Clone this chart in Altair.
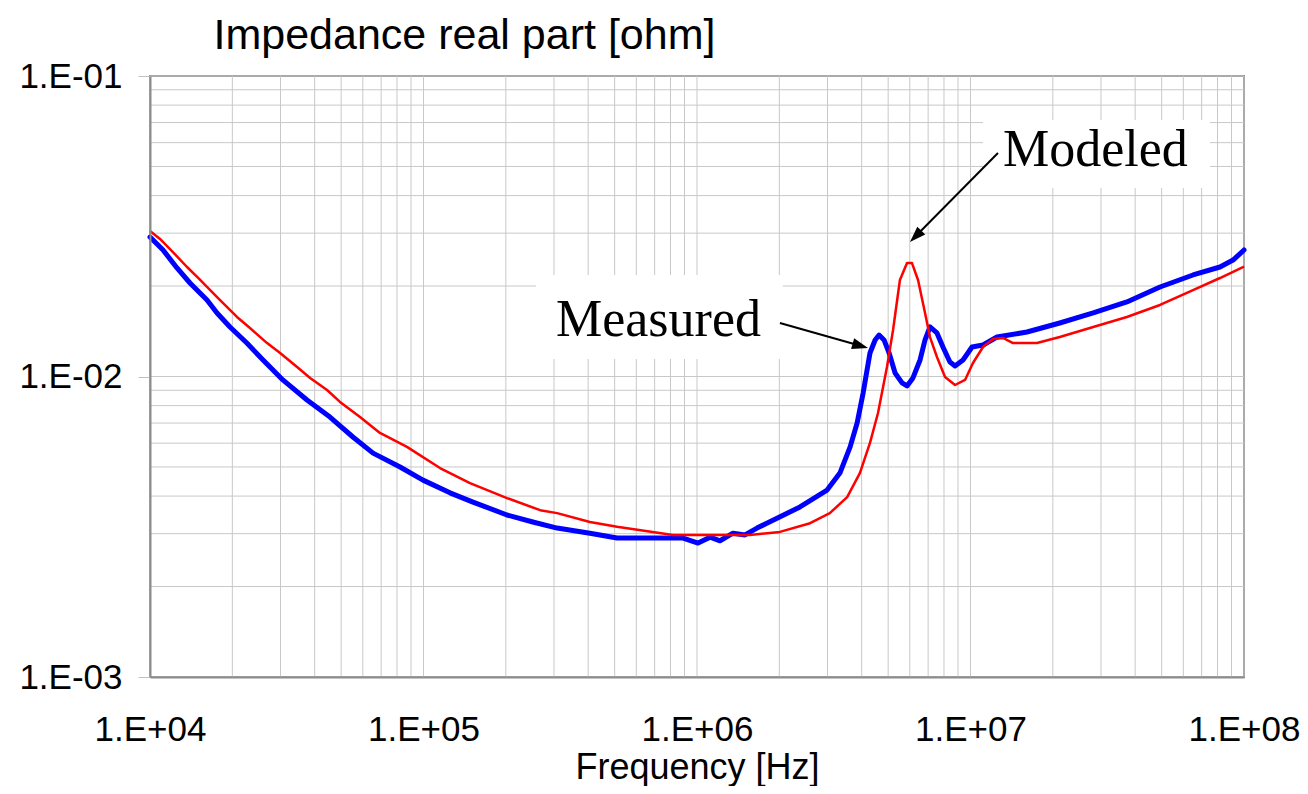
import altair as alt
import pandas as pd

# ---- data ----
meas_freq = [1.0e4, 1.116e4, 1.255e4, 1.40e4, 1.616e4, 1.758e4, 1.961e4, 2.26e4, 2.59e4, 3.06e4,
             3.75e4, 4.55e4, 5.52e4, 6.54e4, 8.21e4, 9.96e4, 1.25e5, 1.517e5, 2.02e5, 2.51e5,
             3.08e5, 4.06e5, 5.10e5, 8.89e5, 1.009e6, 1.116e6, 1.214e6, 1.354e6, 1.498e6, 1.657e6,
             1.80e6, 2.38e6, 2.99e6, 3.33e6, 3.63e6, 3.85e6, 4.05e6, 4.29e6, 4.48e6, 4.63e6,
             4.83e6, 5.04e6, 5.30e6, 5.62e6, 5.86e6, 6.16e6, 6.54e6, 6.82e6, 7.11e6, 7.54e6,
             7.93e6, 8.41e6, 8.78e6, 9.39e6, 1.013e7, 1.111e7, 1.25e7, 1.609e7, 2.12e7, 2.81e7,
             3.73e7, 4.93e7, 6.51e7, 8.17e7, 9.12e7, 1.0e8]
meas_val = [0.02911, 0.02636, 0.02297, 0.02047, 0.01797, 0.01627, 0.01462, 0.01292, 0.01135, 0.00974,
            0.00835, 0.00733, 0.00629, 0.00556, 0.0050, 0.00452, 0.0041, 0.00382, 0.00346, 0.00328,
            0.00313, 0.00301, 0.0029, 0.0029, 0.00279, 0.00292, 0.00284, 0.00301, 0.00297, 0.00313,
            0.00325, 0.00368, 0.00419, 0.00477, 0.00583, 0.0070, 0.00882, 0.01197, 0.01323, 0.01374,
            0.01323, 0.01197, 0.01027, 0.00952, 0.0093, 0.00989, 0.01135, 0.01323, 0.01462, 0.01396,
            0.01254, 0.01117, 0.01084, 0.01135, 0.01254, 0.01273, 0.01353, 0.01406, 0.01507, 0.01627,
            0.0177, 0.01985, 0.02177, 0.02314, 0.02441, 0.02636]

model_freq = [1.0e4, 1.088e4, 1.21e4, 1.366e4, 1.50e4, 1.77e4, 2.08e4, 2.32e4, 2.68e4, 2.99e4,
              3.45e4, 3.85e4, 4.44e4, 4.95e4, 5.86e4, 6.93e4, 8.70e4, 1.149e5, 1.479e5, 2.02e5,
              2.67e5, 3.08e5, 4.06e5, 5.10e5, 8.17e5, 1.56e6, 2.01e6, 2.59e6, 3.06e6, 3.54e6,
              3.94e6, 4.29e6, 4.59e6, 4.79e6, 4.95e6, 5.21e6, 5.52e6, 5.86e6, 6.11e6, 6.43e6,
              6.82e6, 7.11e6, 7.54e6, 8.07e6, 8.78e6, 9.55e6, 1.021e7, 1.111e7, 1.209e7, 1.315e7,
              1.43e7, 1.75e7, 2.12e7, 2.81e7, 3.73e7, 4.93e7, 6.51e7, 8.17e7, 1.0e8]
model_val = [0.0305, 0.02869, 0.0260, 0.02314, 0.0213, 0.01825, 0.01578, 0.0145, 0.01292, 0.01197,
             0.01075, 0.00989, 0.00902, 0.00823, 0.00733, 0.00649, 0.00583, 0.00496, 0.00442, 0.00394,
             0.00359, 0.00351, 0.00328, 0.00316, 0.00297, 0.00297, 0.00304, 0.00325, 0.00351, 0.00397,
             0.00477, 0.00601, 0.00756, 0.00923, 0.01075, 0.01428, 0.02095, 0.02385, 0.02385, 0.02095,
             0.01627, 0.01353, 0.01161, 0.00996, 0.00937, 0.00974, 0.01109, 0.01254, 0.01333, 0.01344,
             0.01292, 0.01292, 0.01353, 0.01462, 0.01578, 0.0173, 0.0194, 0.02127, 0.0232]

# annotations (data coordinates)
label_text = ["Modeled", "Measured"]
label_freq = [1.315e7, 3.05e5]
label_val = [0.0502, 0.01364]
box_f1 = [1.111e7, 2.58e5]
box_f2 = [7.51e7, 2.06e6]
box_v1 = [0.0714, 0.02177]
box_v2 = [0.0424, 0.01143]
arrow_f1 = [1.26e7, 2.01e6]
arrow_v1 = [0.05543, 0.01507]
arrow_f2 = [6.30e6, 3.955e6]
arrow_v2 = [0.02928, 0.01265]
arrow_angle = [135, 16]

x_ticks = [1e4, 1e5, 1e6, 1e7, 1e8]
y_ticks = [1e-3, 1e-2, 1e-1]
freq_grid = [m * 10.0 ** e for e in range(4, 8) for m in range(1, 10)] + [1e8]
imp_grid = [m * 10.0 ** e for e in range(-3, -1) for m in range(1, 10)] + [0.1]

# ---- chart ----
FONT = "Liberation Sans"
xs = alt.Scale(type="log", domain=[1e4, 1e8], nice=False)
ys = alt.Scale(type="log", domain=[1e-3, 1e-1], nice=False)

xaxis = alt.Axis(values=x_ticks,
                 labelExpr="'1.E+0' + format(log(datum.value)/LN10, '.0f')",
                 grid=False, ticks=False, tickSize=0,
                 domainColor="#8c8c8c", domainWidth=2,
                 labelFont=FONT, labelFontSize=35, labelColor="black",
                 labelPadding=35, labelFlush=False, labelOverlap=False,
                 title="Frequency [Hz]", titleFont=FONT, titleFontSize=36,
                 titleFontWeight="normal", titleColor="black",
                 titleX=547, titleY=101, titleAlign="center", titleBaseline="alphabetic",
                 zindex=1)
yaxis = alt.Axis(values=y_ticks,
                 labelExpr="'1.E-0' + format(-log(datum.value)/LN10, '.0f')",
                 grid=False, ticks=True, tickSize=12, tickColor="#c0c0c0", tickWidth=1,
                 domainColor="#8c8c8c", domainWidth=2,
                 labelFont=FONT, labelFontSize=35, labelColor="black",
                 labelPadding=16, labelFlush=False, labelOverlap=False,
                 title="Impedance real part [ohm]", titleFont=FONT, titleFontSize=43,
                 titleFontWeight="normal", titleColor="black", titleAngle=0,
                 titleX=63, titleY=-28, titleAlign="left", titleBaseline="alphabetic",
                 zindex=1)


def X(field):
    return alt.X(field, type="quantitative", scale=xs, axis=xaxis)


def Y(field):
    return alt.Y(field, type="quantitative", scale=ys, axis=yaxis)


grid_v = alt.Chart(pd.DataFrame({"f": freq_grid})).mark_rule(
    color="#c8c8c8", strokeWidth=1).encode(x=X("f"))
grid_h = alt.Chart(pd.DataFrame({"v": imp_grid})).mark_rule(
    color="#c8c8c8", strokeWidth=1).encode(y=Y("v"))

ann = pd.DataFrame({
    "text": label_text, "lf": label_freq, "lv": label_val,
    "bf1": box_f1, "bf2": box_f2, "bv1": box_v1, "bv2": box_v2,
    "af1": arrow_f1, "av1": arrow_v1, "af2": arrow_f2, "av2": arrow_v2,
    "ang": arrow_angle,
})

boxes = alt.Chart(ann).mark_rect(fill="white").encode(
    x=X("bf1"), x2="bf2", y=Y("bv1"), y2="bv2")

meas = alt.Chart(pd.DataFrame({"f": meas_freq, "v": meas_val})).mark_line(
    color="#0000ff", strokeWidth=5, strokeJoin="round", strokeCap="round").encode(
    x=X("f"), y=Y("v"), order="f:Q")
model = alt.Chart(pd.DataFrame({"f": model_freq, "v": model_val})).mark_line(
    color="#ff0000", strokeWidth=2.5, strokeJoin="round").encode(
    x=X("f"), y=Y("v"), order="f:Q")

shafts = alt.Chart(ann).mark_rule(color="black", strokeWidth=2).encode(
    x=X("af1"), x2="af2", y=Y("av1"), y2="av2")
heads = alt.Chart(ann).mark_point(
    shape="M 1 0 L -1 -0.7 L -1 0.7 Z", filled=True, size=256,
    color="black", opacity=1).encode(
    x=X("af2"), y=Y("av2"), angle=alt.Angle("ang:Q", scale=None))

labels = alt.Chart(ann).mark_text(
    font="Liberation Serif", fontSize=52, align="left", baseline="alphabetic",
    color="black").encode(x=X("lf"), y=Y("lv"), text="text:N")

chart = alt.layer(grid_v, grid_h, boxes, meas, model, shafts, heads, labels).properties(
    width=1094, height=601,
    padding={"left": 142, "top": 68, "right": 56, "bottom": 109},
    autosize=alt.AutoSizeParams(type="none"),
    background="white",
).configure_view(stroke="#8c8c8c", strokeWidth=2)

chart.save("out.html", embed_options={"renderer": "svg", "actions": False})
